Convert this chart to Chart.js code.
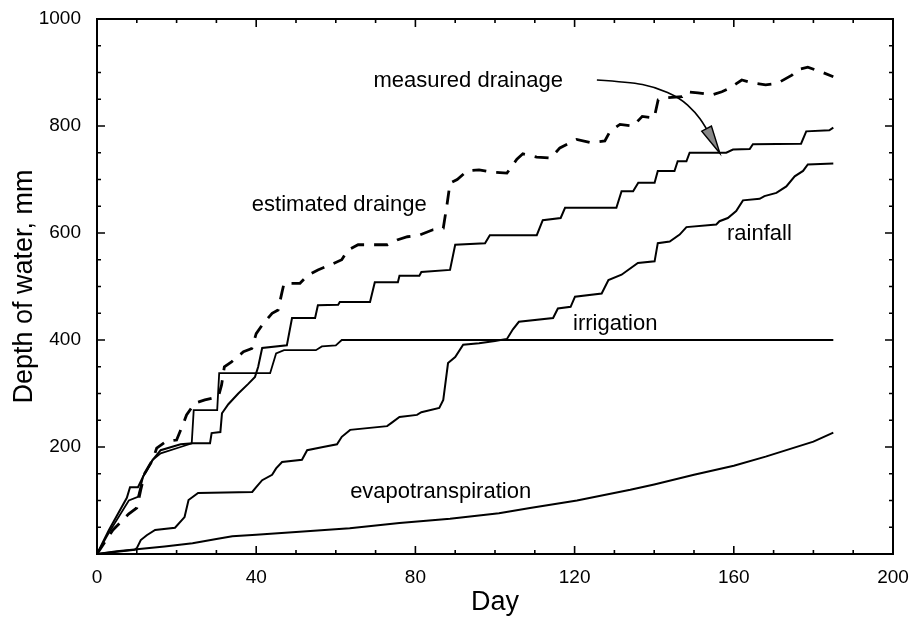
<!DOCTYPE html>
<html><head><meta charset="utf-8">
<script src="https://cdn.jsdelivr.net/npm/chart.js@4.4.1/dist/chart.umd.min.js"></script>
<style>html,body{margin:0;padding:0;background:#fff;}</style>
</head><body>
<canvas id="c" width="915" height="617"></canvas>
<script>
// ---- data (day, depth of water in mm) ----
const xTicks = [0, 40, 80, 120, 160, 200];
const yTicks = [200, 400, 600, 800, 1000];

const solidDrainDays = [0, 3, 7.5, 8.3, 10.3, 11.6, 14, 16, 21, 24, 28.4, 28.8, 31, 31.4, 33, 35.5, 38, 39.7, 40.5, 41.5, 47.7, 49, 54.8, 55.5, 60.6, 61, 68.6, 69.8, 75.6, 76, 81, 81.5, 88.7, 90, 97.5, 98.7, 110.5, 112, 116.5, 117.6, 130.5, 131.8, 134.7, 136, 140.1, 140.9, 145.1, 145.9, 148.1, 148.9, 158.1, 159.8, 164, 164.8, 176.9, 178.2, 184, 185];
const solidDrainVals = [0, 45, 105, 125, 125, 145, 176, 194, 205, 207, 207, 226, 228, 263, 280, 300, 318, 331, 350, 385, 390, 441, 441, 465, 466, 471, 471, 508, 508, 520, 520, 527, 531, 578, 581, 596, 596, 624, 628, 647, 647, 678, 678, 694, 694, 716, 716, 734, 734, 750, 750, 756, 757, 766, 767, 790, 792, 797];

const dashedDrainDays = [0, 4, 8, 10, 11, 12, 14, 15, 17.5, 20, 21.7, 22.5, 24.6, 27.1, 30.5, 31.3, 32, 33.8, 36.8, 38.9, 40, 41.8, 44, 45.5, 46.5, 47, 51, 53, 55.5, 58.5, 61.5, 63, 65.6, 69.3, 73, 75.4, 78, 81, 84.4, 87, 88, 88.7, 90.5, 93, 96, 99, 103, 105.5, 107, 110.5, 114, 116.3, 120.5, 123.9, 127.6, 128.9, 131.4, 134.7, 137, 140, 141, 142, 147, 148, 151, 154.5, 157, 159, 162, 165, 168, 171, 174.6, 176, 178.6, 182, 185];
const dashedDrainVals = [0, 45, 75, 86, 120, 151, 176, 198, 211, 213, 244, 260, 282, 288, 294, 316, 350, 359, 378, 384, 412, 431, 450, 456, 490, 506, 506, 521, 531, 540, 550, 568, 578, 578, 578, 587, 593, 596, 606, 609, 656, 693, 700, 716, 718, 714, 712, 738, 748, 742, 740, 759, 775, 769, 772, 790, 803, 800, 818, 815, 849, 852, 855, 864, 862, 858, 864, 871, 886, 880, 877, 880, 895, 905, 910, 901, 892];

const irrigationDays = [0, 3, 8, 10.3, 11.6, 14, 16, 21, 23.8, 24.3, 30.2, 30.7, 43.5, 45, 47, 55, 56.5, 60, 61.5, 185];
const irrigationVals = [0, 40, 100, 107, 145, 176, 188, 200, 207, 269, 269, 338, 338, 375, 381, 381, 388, 390, 400, 400];

const rainfallDays = [0, 9.5, 10, 11, 12.5, 14.6, 19.6, 22, 23, 25.4, 39, 40, 41.5, 44, 45, 46.5, 51.5, 52.8, 56.8, 60.3, 61.5, 63.6, 72.9, 74, 76, 80.4, 81.5, 86, 87, 88.2, 90, 92, 96, 100, 103, 104.5, 106, 114.6, 115.8, 119, 120.1, 126.8, 128.5, 131.8, 135.9, 140.1, 140.9, 143.9, 146.4, 148.1, 155.6, 156.4, 158.5, 160.6, 162.3, 166.5, 167.7, 170.7, 173.2, 175.3, 177.4, 178.6, 185];
const rainfallVals = [0, 8, 11, 26, 35, 45, 49, 69, 101, 114, 116, 125, 138, 148, 160, 172, 176, 194, 200, 205, 219, 232, 239, 245, 256, 260, 265, 273, 288, 357, 368, 391, 394, 398, 402, 420, 434, 441, 459, 462, 481, 487, 512, 522, 544, 547, 581, 584, 597, 611, 616, 622, 628, 641, 661, 664, 669, 675, 687, 706, 716, 728, 730];

const etDays = [0, 5, 10, 17, 24, 30, 34, 40, 50, 63.5, 76, 88.7, 101, 108.8, 120.6, 134, 140, 150, 160, 168, 174, 180, 185];
const etVals = [0, 5, 9, 14, 20, 28, 33, 36, 41, 48, 58, 66, 76, 86, 100, 120, 130, 148, 165, 182, 196, 210, 227];

// annotation arrow path (day, mm)
const arrowDays = [125.6, 133.9, 140.2, 146.5, 150.3, 152.8, 156.5];
const arrowVals = [886, 882, 873, 852, 826, 800, 749];

const FONT = "'Liberation Sans', Arial, Helvetica, sans-serif";
const labelsCfg = [
  {text: 'measured drainage', x: 117.1, y: 873, align: 'right'},
  {text: 'estimated drainge', x: 38.9, y: 641, align: 'left'},
  {text: 'rainfall', x: 158.3, y: 587, align: 'left'},
  {text: 'irrigation', x: 119.6, y: 419, align: 'left'},
  {text: 'evapotranspiration', x: 63.6, y: 105, align: 'left'}
];

const pts = (d, v) => d.map((x, i) => ({x: x, y: v[i]}));

const framePlugin = {
  id: 'frame',
  afterDraw(chart) {
    const ctx = chart.ctx, a = chart.chartArea;
    const xs = chart.scales.x, ys = chart.scales.y;
    ctx.save();
    ctx.strokeStyle = '#000';
    ctx.lineWidth = 1.6;
    ctx.beginPath();
    for (let d = 0; d <= 200; d += 10) {
      const px = xs.getPixelForValue(d);
      const L = (d % 40 === 0) ? 8 : 4;
      ctx.moveTo(px, a.bottom); ctx.lineTo(px, a.bottom - L);
      ctx.moveTo(px, a.top); ctx.lineTo(px, a.top + L);
    }
    for (let v = 0; v <= 1000; v += 50) {
      const py = ys.getPixelForValue(v);
      const L = (v % 200 === 0) ? 8 : 4;
      ctx.moveTo(a.left, py); ctx.lineTo(a.left + L, py);
      ctx.moveTo(a.right, py); ctx.lineTo(a.right - L, py);
    }
    ctx.stroke();
    ctx.lineWidth = 2;
    ctx.strokeRect(a.left, a.top, a.right - a.left, a.bottom - a.top);
    // arrow
    const P = arrowDays.map((d, i) => [xs.getPixelForValue(d), ys.getPixelForValue(arrowVals[i])]);
    ctx.lineWidth = 1.6;
    ctx.beginPath();
    ctx.moveTo(P[0][0], P[0][1]);
    for (let i = 1; i < P.length - 1; i++) {
      const mx = (P[i][0] + P[i + 1][0]) / 2, my = (P[i][1] + P[i + 1][1]) / 2;
      ctx.quadraticCurveTo(P[i][0], P[i][1], mx, my);
    }
    ctx.lineTo(P[P.length - 1][0], P[P.length - 1][1]);
    ctx.stroke();
    const tip = P[P.length - 1], prev = P[P.length - 2];
    const ang = Math.atan2(tip[1] - prev[1], tip[0] - prev[0]);
    const hl = 28, hw = 5.5;
    const bx = tip[0] - hl * Math.cos(ang), by = tip[1] - hl * Math.sin(ang);
    ctx.beginPath();
    ctx.moveTo(tip[0], tip[1]);
    ctx.lineTo(bx + hw * Math.sin(ang), by - hw * Math.cos(ang));
    ctx.lineTo(bx - hw * Math.sin(ang), by + hw * Math.cos(ang));
    ctx.closePath();
    ctx.fillStyle = '#888';
    ctx.fill();
    ctx.lineWidth = 1.4;
    ctx.stroke();
    // labels
    ctx.fillStyle = '#000';
    ctx.font = '22px ' + FONT;
    ctx.textBaseline = 'alphabetic';
    labelsCfg.forEach(l => {
      ctx.textAlign = l.align;
      ctx.fillText(l.text, xs.getPixelForValue(l.x), ys.getPixelForValue(l.y));
    });
    ctx.restore();
  }
};

Chart.defaults.font.family = FONT;
Chart.defaults.color = '#000';

const lineDs = (data, w, dash) => ({
  data: data, borderColor: '#000', borderWidth: w, borderDash: dash || [],
  pointRadius: 0, tension: 0, fill: false
});

new Chart(document.getElementById('c'), {
  type: 'line',
  data: {
    datasets: [
      lineDs(pts(solidDrainDays, solidDrainVals), 2),
      lineDs(pts(dashedDrainDays, dashedDrainVals), 2.8, [14, 10]),
      lineDs(pts(irrigationDays, irrigationVals), 1.8),
      lineDs(pts(rainfallDays, rainfallVals), 2),
      lineDs(pts(etDays, etVals), 2)
    ]
  },
  options: {
    responsive: false, animation: false, devicePixelRatio: 1,
    layout: {padding: {top: 19, right: 22, left: 0, bottom: 0}},
    plugins: {legend: {display: false}, tooltip: {enabled: false}},
    scales: {
      x: {
        type: 'linear', min: 0, max: 200,
        afterBuildTicks: s => { s.ticks = xTicks.map(v => ({value: v})); },
        ticks: {font: {size: 19}, color: '#000', padding: 12, maxRotation: 0, callback: v => String(v)},
        grid: {display: false, drawTicks: false},
        border: {display: false},
        title: {display: true, text: 'Day', font: {size: 27}, color: '#000', padding: {top: 0, bottom: -2}},
        afterFit: s => { s.height = 63; s.paddingLeft = 0; s.paddingRight = 0; }
      },
      y: {
        type: 'linear', min: 0, max: 1000,
        afterBuildTicks: s => { s.ticks = yTicks.map(v => ({value: v})); },
        ticks: {font: {size: 19}, color: '#000', padding: 16, callback: v => String(v)},
        grid: {display: false, drawTicks: false},
        border: {display: false},
        title: {display: true, text: 'Depth of water, mm', font: {size: 27}, color: '#000', padding: {top: 8, bottom: 0}},
        afterFit: s => { s.width = 97; s.paddingTop = 0; s.paddingBottom = 0; }
      }
    }
  },
  plugins: [framePlugin]
});
</script>
</body></html>
